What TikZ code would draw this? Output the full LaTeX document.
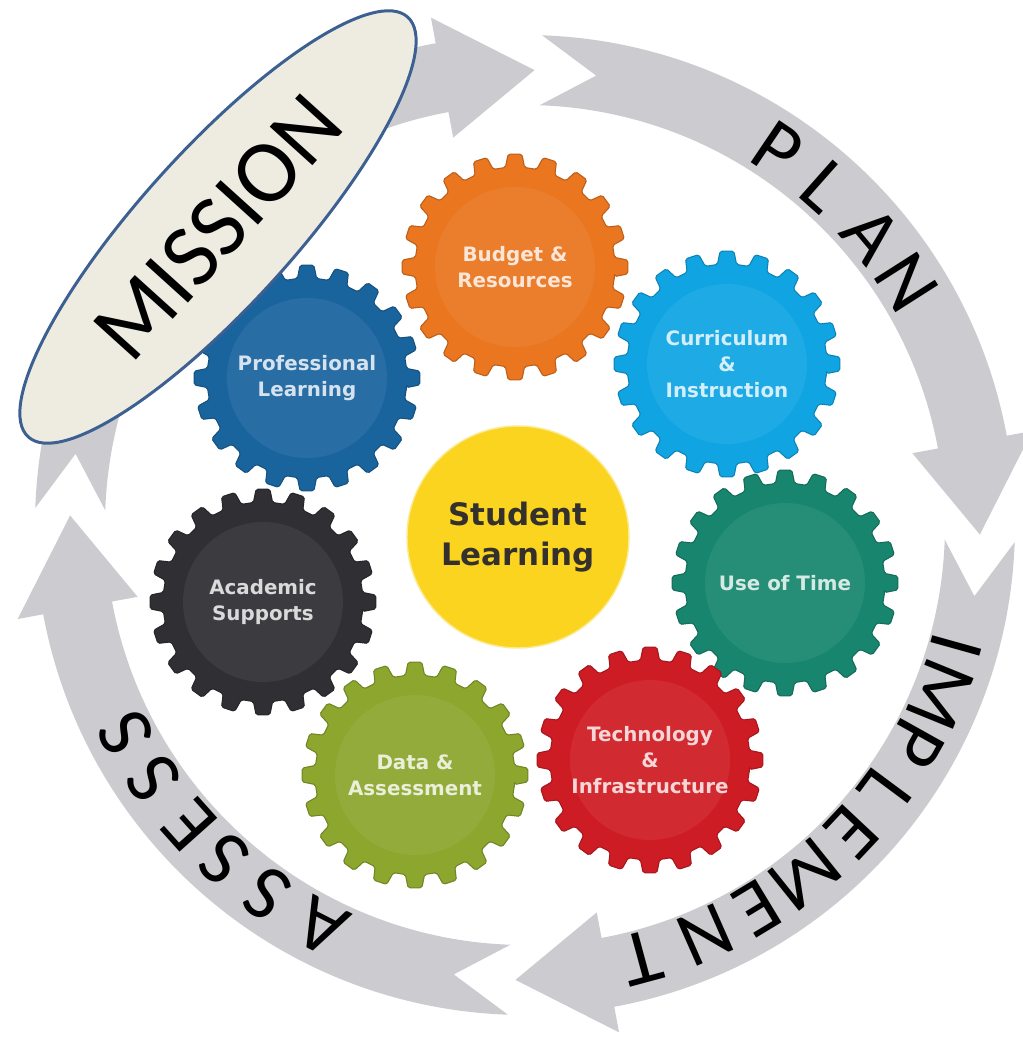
\documentclass[tikz,border=0pt]{standalone}
\usepackage{fontspec}
\setmainfont{Carlito}
\newfontfamily\gearfont{DejaVu Sans}
\usetikzlibrary{shapes.geometric}

\definecolor{ringgray}{RGB}{204,204,208}
\definecolor{budgetorange}{RGB}{234,118,32}
\definecolor{curricblue}{RGB}{16,164,226}
\definecolor{timeteal}{RGB}{24,134,110}
\definecolor{techred}{RGB}{206,28,36}
\definecolor{dataolive}{RGB}{140,166,46}
\definecolor{acadgray}{RGB}{48,48,52}
\definecolor{profblue}{RGB}{26,100,158}
\definecolor{sunyellow}{RGB}{250,212,30}
\definecolor{missionfill}{RGB}{238,236,225}
\definecolor{missionline}{RGB}{60,96,146}

\begin{document}
\begin{tikzpicture}[x=0.02cm,y=0.02cm,
    ringtext/.style={font=\fontsize{45}{45}\selectfont,inner sep=0pt},
    geartext/.style={font=\gearfont\bfseries\fontsize{11.3}{14.8}\selectfont,align=center,inner sep=0pt}]
  \path[use as bounding box,fill=white] (-525,-514) rectangle (498,525);

  % cycle arrows
  \foreach \s in {88,-2,-92,178}
    \fill[ringgray] (\s:490) arc[start angle=\s,end angle=\s-77.5,radius=490]
      -- ({\s-77.5}:516) -- ({\s-89.2}:455) -- ({\s-77.5}:394) -- ({\s-77.5}:420)
      arc[start angle=\s-77.5,end angle=\s,radius=420] -- ({\s-7}:455) -- cycle;

  \foreach \ch/\a in {P/56,L/48.5,A/40,N/32.5}
    \node[ringtext,rotate=\a-90] (plan\ch) at (\a:452) {\ch};
  \foreach \ch/\a [count=\i] in {I/-15.6,M/-22.2,P/-29.2,L/-36.6,E/-43.2,M/-51.3,E/-58.8,N/-66.2,T/-74.9}
    \node[ringtext,rotate=\a-90] (impl\i) at (\a:448) {\ch};
  \foreach \ch/\a [count=\i] in {A/-116.9,S/-125,S/-132,E/-138.2,S/-145.7,S/-152.5}
    \node[ringtext,rotate=\a-90] (assess\i) at (\a:450) {\ch};

  % gears
  \foreach \gname/\gx/\gy/\gcol/\gtxt in {
      budget/-10/258/budgetorange/{Budget \&\\Resources},
      curric/202/161/curricblue/{Curriculum\\\&\\Instruction},
      time/260/-58/timeteal/{Use of Time},
      tech/125/-235/techred/{Technology\\\&\\Infrastructure},
      data/-110/-250/dataolive/{Data \&\\Assessment},
      acad/-262/-77/acadgray/{Academic\\Supports},
      prof/-218/147/profblue/{Professional\\Learning}}{
    \begin{scope}[shift={(\gx,\gy)}]
      \fill[\gcol,draw=\gcol!80!black,line width=0.6pt,rounded corners=1pt] (-5.5:100)
        \foreach \k in {0,18,...,342}{ -- ({\k-5.5}:100) -- ({\k-3.5}:113) -- ({\k+3.5}:113) -- ({\k+5.5}:100)} -- cycle;
      \fill[\gcol!94!white] (0,0) circle[radius=80];
    \end{scope}
    \node[geartext,text=\gcol!18!white] (\gname) at (\gx,\gy) {\gtxt};
  }

  \node[circle,fill=sunyellow,draw=sunyellow!50!white,line width=0.8pt,minimum size=4.44cm,
    text=black!92!yellow,align=center,font=\gearfont\bfseries\fontsize{17.6}{22.8}\selectfont]
    (student) at (-7,-12) {Student\\Learning};

  \node[ellipse,fill=missionfill,draw=missionline,line width=1.7pt,inner sep=0pt,
    minimum width=11.32cm,minimum height=3.08cm,rotate=47.9,font=\fontsize{51}{51}\selectfont]
    (mission) at (-307,298) {MISSION};
\end{tikzpicture}
\end{document}
